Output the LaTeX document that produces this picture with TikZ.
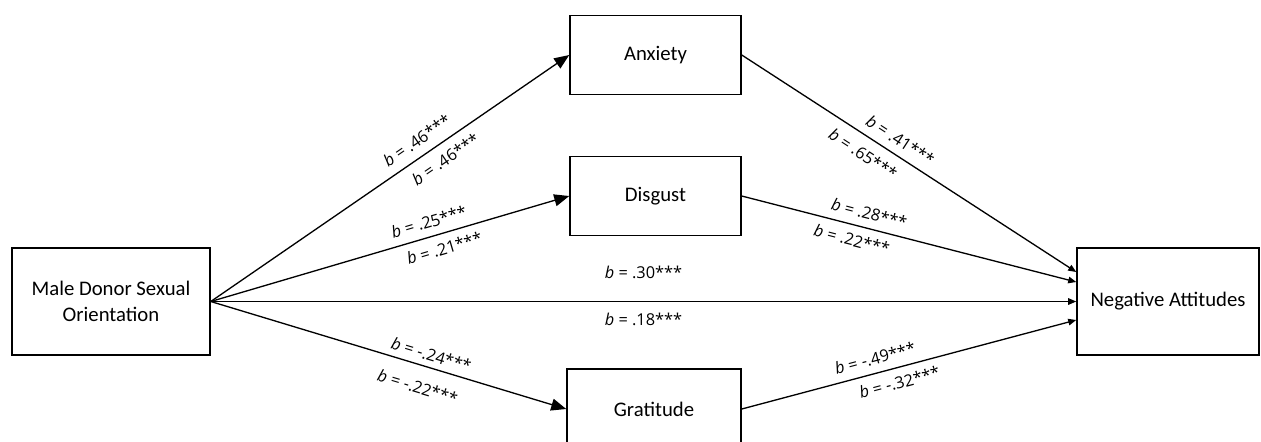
\documentclass[tikz,border=0pt]{standalone}
\usepackage{fontspec}
\setmainfont{Carlito}
\newfontfamily\coeffont{Open Sans}
\usetikzlibrary{arrows.meta,calc}

\begin{document}
\begin{tikzpicture}[x=0.02cm,y=-0.02cm,
    box/.style={draw,line width=0.9pt,align=center,font=\fontsize{11.8}{14.5}\selectfont},
    medarrow/.style={line width=0.75pt,-{Triangle[length=0.3cm,width=0.24cm]}},
    outarrow/.style={line width=0.75pt,-{Triangle[length=0.16cm,width=0.13cm]}},
    coef/.style={font=\coeffont\fontsize{9.3}{11}\selectfont,sloped}]
            \useasboundingbox (0,0) rectangle (1261,441);

            \node[box,minimum width=3.96cm,minimum height=2.14cm] (donor) at (111,301.5) {Male Donor Sexual\\Orientation};
            \node[box,minimum width=3.42cm,minimum height=1.58cm] (anx) at (655.5,55) {Anxiety};
            \node[box,minimum width=3.42cm,minimum height=1.58cm] (dis) at (655.5,196) {Disgust};
            \node[box,minimum width=3.48cm,minimum height=1.6cm] (grat) at (654,409) {Gratitude};
            \node[box,minimum width=3.64cm,minimum height=2.14cm] (neg) at (1168,301.5) {Negative Attitudes};

            \draw[medarrow] (donor.east) -- (anx.west)
                node[coef,pos=0.6,above=0.06cm]{\textit{b} = .46***}
                node[coef,pos=0.63,below=0.06cm]{\textit{b} = .46***};
            \draw[medarrow] (donor.east) -- (dis.west)
                node[coef,pos=0.62,above=0.04cm]{\textit{b} = .25***}
                node[coef,pos=0.64,below=0.04cm]{\textit{b} = .21***};
            \draw[medarrow] (donor.east) -- (grat.west)
                node[coef,pos=0.61,above=0cm]{\textit{b} = -.24***}
                node[coef,pos=0.6,below=0.18cm]{\textit{b} = -.22***};
            \draw[outarrow] (donor.east) -- (neg.west)
                node[coef,pos=0.5,above=0.33cm]{\textit{b} = .30***}
                node[coef,pos=0.5,below=0.1cm]{\textit{b} = .18***};

            \draw[outarrow] (anx.east) -- ($(neg.west)+(0,-29.5)$)
                node[coef,pos=0.45,above=0.04cm]{\textit{b} = .41***}
                node[coef,pos=0.39,below=0.08cm]{\textit{b} = .65***};
            \draw[outarrow] (dis.east) -- ($(neg.west)+(0,-19.5)$)
                node[coef,pos=0.37,above=0.04cm]{\textit{b} = .28***}
                node[coef,pos=0.34,below=0.04cm]{\textit{b} = .22***};
            \draw[outarrow] (grat.east) -- ($(neg.west)+(0,18.5)$)
                node[coef,pos=0.41,above=0.04cm]{\textit{b} = -.49***}
                node[coef,pos=0.46,below=0.04cm]{\textit{b} = -.32***};
        \end{tikzpicture}
\end{document}
